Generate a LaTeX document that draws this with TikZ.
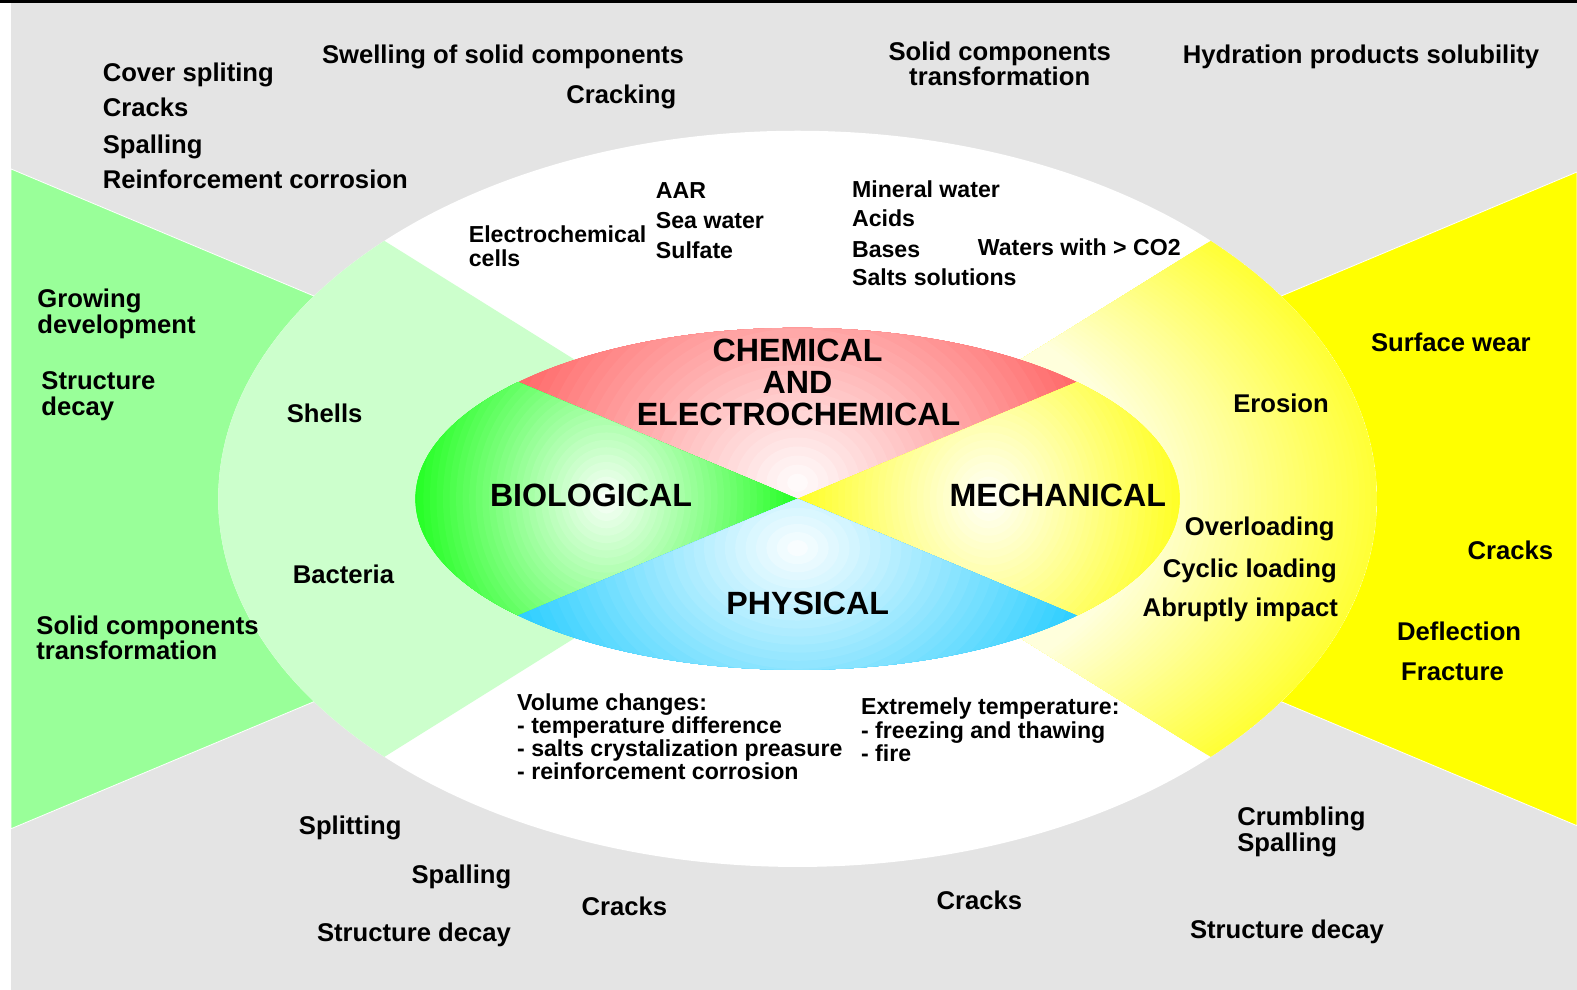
\documentclass[tikz,border=0pt]{standalone}
\usepackage{fontspec}
\setmainfont{Liberation Sans}
\definecolor{bg}{RGB}{228,228,228}
\definecolor{ogreen}{RGB}{153,255,153}
\definecolor{lgreen}{RGB}{204,255,204}
\definecolor{oyellow}{RGB}{255,255,0}
\definecolor{ired}{RGB}{255,102,102}
\definecolor{igreen}{RGB}{34,255,34}
\definecolor{iyellow}{RGB}{255,255,34}
\definecolor{iblue}{RGB}{34,204,255}
\definecolor{byellow}{RGB}{255,255,20}
\tikzset{
  t/.style={anchor=base west, inner sep=0pt, font=\fontsize{25.5}{26}\selectfont\bfseries},
  tc/.style={anchor=base, inner sep=0pt, font=\fontsize{25.5}{26}\selectfont\bfseries},
  ts/.style={anchor=base west, inner sep=0pt, font=\fontsize{23}{24}\selectfont\bfseries},
  tb/.style={anchor=base, inner sep=0pt, font=\fontsize{32}{34}\selectfont\bfseries},
  tbw/.style={anchor=base west, inner sep=0pt, font=\fontsize{32}{34}\selectfont\bfseries},
}
\begin{document}
\begin{tikzpicture}[x=1pt,y=-1pt]
\useasboundingbox (0,0) rectangle (1568,984);
\fill[white] (0,0) rectangle (1568,984);
\fill[bg] (11,3) rectangle (1568,984);
\fill[black] (0,0) rectangle (1568,3);
\coordinate (C) at (793,496);
% outer bow tie
\filldraw[fill=ogreen, draw=white, line width=0.8pt] (11,168) -- (C) -- (11,824) -- cycle;
\filldraw[fill=oyellow, draw=white, line width=0.8pt] (1568,171) -- (C) -- (1568,821) -- cycle;
% big ellipse
\fill[white] (C) ellipse [x radius=576pt, y radius=366pt];
\begin{scope}
  \clip (C) ellipse [x radius=576pt, y radius=366pt];
  \fill[lgreen] (C) -- ++(-900,-562) -- ++(0,1124) -- cycle;
  \clip (C) -- ++(900,-562) -- ++(0,1124) -- cycle;
  \foreach \i in {40,39,...,0}{
    \pgfmathsetmacro\pp{15+70*\i/40}
    \pgfmathsetmacro\ra{576*(0.6+0.4*\i/40)}
    \pgfmathsetmacro\rb{366*(0.6+0.4*\i/40)}
    \fill[byellow!\pp!white] (C) ellipse [x radius=\ra pt, y radius=\rb pt];
  }
\end{scope}
% inner ellipse
\begin{scope}
  \clip (C) ellipse [x radius=380pt, y radius=170pt];
  \begin{scope}
    \clip (C) -- ++(-900,-376) -- ++(1800,0) -- cycle;
    \fill[ired] (C) -- ++(-900,-376) -- ++(1800,0) -- cycle;
    \foreach \i in {30,29,...,1}{
      \pgfmathsetmacro\pp{100*\i/30}
      \pgfmathsetmacro\ra{\i*310/30}
      \pgfmathsetmacro\rb{\i*270/30}
      \fill[ired!\pp!white] (793,480) ellipse [x radius=\ra pt, y radius=\rb pt];
    }
  \end{scope}
  \begin{scope}
    \clip (C) -- ++(-900,-376) -- ++(0,752) -- cycle;
    \fill[igreen] (C) -- ++(-900,-376) -- ++(0,752) -- cycle;
    \foreach \i in {30,29,...,1}{
      \pgfmathsetmacro\pp{100*\i/30}
      \pgfmathsetmacro\ra{\i*195/30}
      \pgfmathsetmacro\rb{\i*220/30}
      \fill[igreen!\pp!white] (603,496) ellipse [x radius=\ra pt, y radius=\rb pt];
    }
  \end{scope}
  \begin{scope}
    \clip (C) -- ++(900,-376) -- ++(0,752) -- cycle;
    \fill[iyellow] (C) -- ++(900,-376) -- ++(0,752) -- cycle;
    \foreach \i in {30,29,...,1}{
      \pgfmathsetmacro\pp{100*\i/30}
      \pgfmathsetmacro\ra{\i*195/30}
      \pgfmathsetmacro\rb{\i*220/30}
      \fill[iyellow!\pp!white] (983,496) ellipse [x radius=\ra pt, y radius=\rb pt];
    }
  \end{scope}
  \begin{scope}
    \clip (C) -- ++(-900,376) -- ++(1800,0) -- cycle;
    \fill[iblue] (C) -- ++(-900,376) -- ++(1800,0) -- cycle;
    \foreach \i in {30,29,...,1}{
      \pgfmathsetmacro\pp{100*\i/30}
      \pgfmathsetmacro\ra{\i*310/30}
      \pgfmathsetmacro\rb{\i*240/30}
      \fill[iblue!\pp!white] (793,545) ellipse [x radius=\ra pt, y radius=\rb pt];
    }
  \end{scope}
\end{scope}
% top-left gray
\node[t] (tl1) at (102,81) {Cover spliting};
\node[t] (tl2) at (102,116) {Cracks};
\node[t] (tl3) at (102,153) {Spalling};
\node[t] (tl4) at (102,187) {Reinforcement corrosion};
\node[t] (sw) at (320,63) {Swelling of solid components};
\node[t] (ck) at (563,103) {Cracking};
\node[tc] (sc1) at (994,60) {Solid components};
\node[tc] (sc2) at (994,85) {transformation};
\node[t] (hp) at (1176,63) {Hydration products solubility};
% outer green
\node[t] (g1) at (37,306) {Growing};
\node[t] (g2) at (37,332) {development};
\node[t] (g3) at (41,387) {Structure};
\node[t] (g4) at (41,413) {decay};
\node[t] (g5) at (36,631) {Solid components};
\node[t] (g6) at (36,656) {transformation};
% light green
\node[t] (sh) at (285,420) {Shells};
\node[t] (ba) at (291,580) {Bacteria};
% top white
\node[ts] (ec1) at (466,241) {Electrochemical};
\node[ts] (ec2) at (466,265) {cells};
\node[ts] (w1) at (652,197) {AAR};
\node[ts] (w2) at (652,227) {Sea water};
\node[ts] (w3) at (652,257) {Sulfate};
\node[ts] (m1) at (847,196) {Mineral water};
\node[ts] (m2) at (847,225) {Acids};
\node[ts] (m3) at (847,256) {Bases};
\node[ts] (m4) at (847,284) {Salts solutions};
\node[ts] (co) at (972,254) {Waters with > CO2};
% inner labels
\node[tb] (ch1) at (793,359) {CHEMICAL};
\node[tb] (ch2) at (793,391) {AND};
\node[tb] (ch3) at (794,423) {ELECTROCHEMICAL};
\node[tbw] (bio) at (487,504) {BIOLOGICAL};
\node[tbw] (mec) at (944,504) {MECHANICAL};
\node[tbw] (phy) at (722,611) {PHYSICAL};
% light yellow
\node[t] (er) at (1226,410) {Erosion};
\node[t] (ov) at (1178,532) {Overloading};
\node[t] (cy) at (1156,574) {Cyclic loading};
\node[t] (ab) at (1136,613) {Abruptly impact};
% outer yellow
\node[t] (su) at (1363,349) {Surface wear};
\node[t] (cr) at (1459,556) {Cracks};
\node[t] (de) at (1389,637) {Deflection};
\node[t] (fr) at (1393,677) {Fracture};
% bottom white
\node[ts] (v1) at (514,706) {Volume changes:};
\node[ts] (v2) at (514,729) {- temperature difference};
\node[ts] (v3) at (514,752) {- salts crystalization preasure};
\node[ts] (v4) at (514,775) {- reinforcement corrosion};
\node[ts] (e1) at (856,710) {Extremely temperature:};
\node[ts] (e2) at (856,734) {- freezing and thawing};
\node[ts] (e3) at (856,757) {- fire};
% bottom gray
\node[t] (b1) at (297,830) {Splitting};
\node[t] (b2) at (409,878) {Spalling};
\node[t] (b3) at (315,936) {Structure decay};
\node[t] (b4) at (578,910) {Cracks};
\node[t] (b5) at (931,904) {Cracks};
\node[t] (b6) at (1230,821) {Crumbling};
\node[t] (b7) at (1230,847) {Spalling};
\node[t] (b8) at (1183,933) {Structure decay};
\end{tikzpicture}
\end{document}
